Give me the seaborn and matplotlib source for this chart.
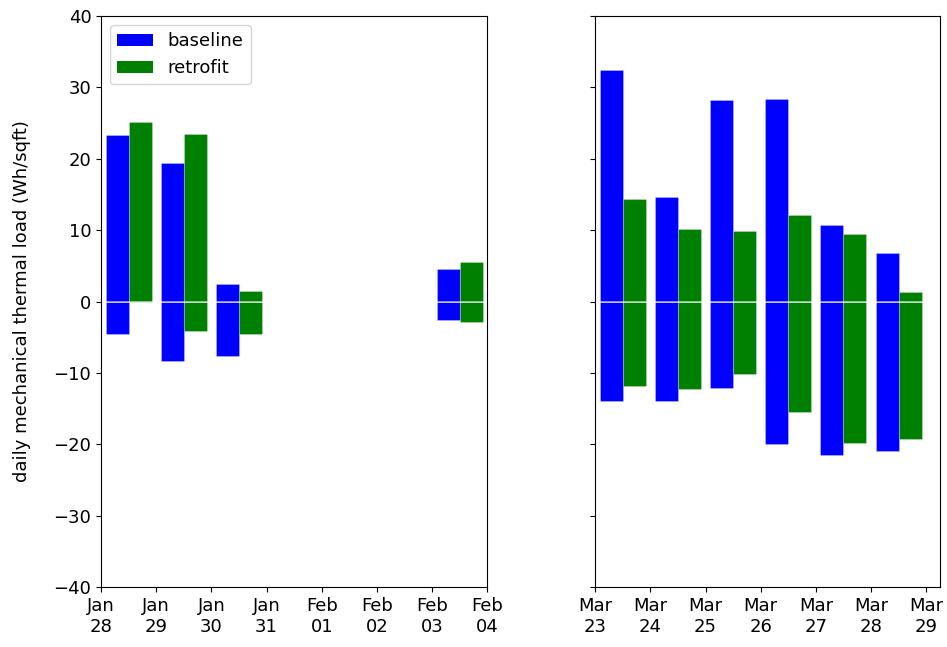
import numpy as np
import pandas as pd
import matplotlib
matplotlib.use("Agg")
import matplotlib.pyplot as plt
import matplotlib.dates as mdates
from matplotlib.patches import Patch
import seaborn as sns

# --- daily loads (Wh/sqft): positive = cooling-side, negative = heating-side ---
jan_days = ["2019-01-28", "2019-01-29", "2019-01-30", "2019-02-03"]
jan_baseline_pos = [23.3, 19.4, 2.5, 4.6]
jan_baseline_neg = [-4.5, -8.4, -7.7, -2.6]
jan_retrofit_pos = [25.1, 23.4, 1.5, 5.6]
jan_retrofit_neg = [0.0, -4.1, -4.5, -2.9]

mar_days = ["2019-03-23", "2019-03-24", "2019-03-25", "2019-03-26",
            "2019-03-27", "2019-03-28"]
mar_baseline_pos = [32.4, 14.6, 28.2, 28.4, 10.7, 6.8]
mar_baseline_neg = [-13.9, -14.0, -12.1, -20.0, -21.5, -20.9]
mar_retrofit_pos = [14.4, 10.2, 9.9, 12.1, 9.5, 1.4]
mar_retrofit_neg = [-11.9, -12.2, -10.2, -15.5, -19.8, -19.3]

series_names = ["baseline", "retrofit"]
series_colors = {"baseline": "blue", "retrofit": "green"}
y_ticks = [-40, -30, -20, -10, 0, 10, 20, 30, 40]


def long_table(days, b_pos, b_neg, r_pos, r_neg):
    # bars sit in the middle of each day (noon), dodged by series
    center = mdates.date2num(pd.to_datetime(days)) + 0.5
    rows = []
    for c, bp, bn, rp, rn in zip(center, b_pos, b_neg, r_pos, r_neg):
        rows.append({"t": c, "series": "baseline", "pos": bp, "neg": bn})
        rows.append({"t": c, "series": "retrofit", "pos": rp, "neg": rn})
    return pd.DataFrame(rows)


jan_df = long_table(jan_days, jan_baseline_pos, jan_baseline_neg,
                    jan_retrofit_pos, jan_retrofit_neg)
mar_df = long_table(mar_days, mar_baseline_pos, mar_baseline_neg,
                    mar_retrofit_pos, mar_retrofit_neg)

fig, (ax1, ax2) = plt.subplots(
    1, 2, sharey=True, figsize=(9.47, 6.47), dpi=100,
    gridspec_kw={"width_ratios": [7, 6.25]})
fig.subplots_adjust(left=0.1067, right=0.9926, top=0.9753, bottom=0.0927,
                    wspace=0.2955)

bar_kw = dict(x="t", hue="series", hue_order=series_names,
              palette=series_colors, native_scale=True, orient="x",
              width=20 / 24, dodge=True, saturation=1, errorbar=None,
              legend=False, edgecolor=(1, 1, 1, 0.35), linewidth=0.5)

for ax, df, (d0, d1) in [
        (ax1, jan_df, ("2019-01-28", "2019-02-04")),
        (ax2, mar_df, ("2019-03-23", "2019-03-29 06:00"))]:
    sns.barplot(data=df, y="pos", ax=ax, **bar_kw)
    sns.barplot(data=df, y="neg", ax=ax, **bar_kw)
    # thin light divider at zero, only visible across the bars
    ax.axhline(0, color="white", alpha=0.6, linewidth=1.3)
    ax.set_xlim(mdates.date2num(pd.Timestamp(d0)),
                mdates.date2num(pd.Timestamp(d1)))
    ax.xaxis.set_major_locator(mdates.DayLocator())
    ax.xaxis.set_major_formatter(mdates.DateFormatter("%b\n%d"))
    ax.set_xlabel("")
    ax.set_ylabel("")
    ax.tick_params(labelsize=13)

ax1.set_ylim(-40, 40)
ax1.set_yticks(y_ticks)
ax1.set_ylabel("daily mechanical thermal load (Wh/sqft)", fontsize=13,
               labelpad=16)

handles = [Patch(facecolor=series_colors[s], label=s) for s in series_names]
ax1.legend(handles=handles, loc="upper left", fontsize=13)

fig.savefig("out.png", dpi=100)
